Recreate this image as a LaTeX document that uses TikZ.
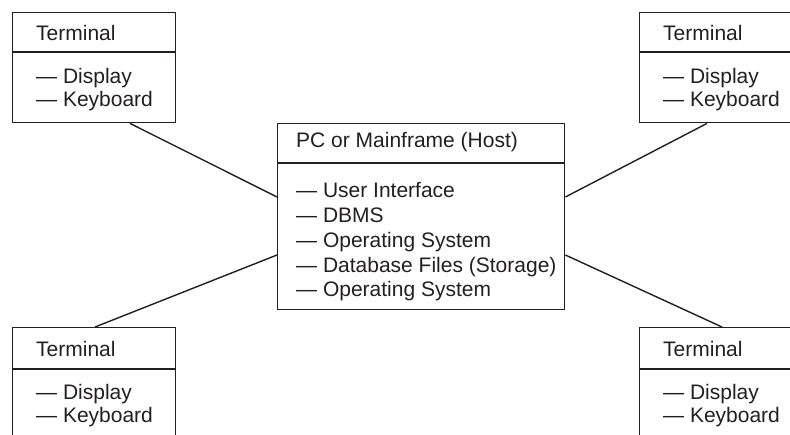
\documentclass[tikz,border=0pt]{standalone}
\usepackage{fontspec}
\setmainfont{Liberation Sans}
\usetikzlibrary{calc}
\definecolor{ink}{HTML}{231F20}
\begin{document}
\begin{tikzpicture}[x=1pt,y=-1pt,
  box/.style={draw=ink, line width=1.4pt, rectangle, inner sep=0pt, anchor=north west},
  divider/.style={draw=ink, line width=2.4pt},
  conn/.style={draw=ink, line width=1.4pt},
  txt/.style={anchor=base west, inner sep=0pt, font=\fontsize{21}{25}\selectfont, text=ink}]
\useasboundingbox (0,0) rectangle (790,434);

% boxes
\node[box, minimum width=163pt, minimum height=110pt] (tl) at (12,12) {};
\node[box, minimum width=163pt, minimum height=110pt] (tr) at (639,12) {};
\node[box, minimum width=163pt, minimum height=110pt] (bl) at (12,327) {};
\node[box, minimum width=163pt, minimum height=110pt] (br) at (639,327) {};
\node[box, minimum width=287pt, minimum height=186pt] (host) at (277,123) {};

% dividers
\draw[divider] ($(tl.north west)+(0,40)$) -- ($(tl.north east)+(0,40)$);
\draw[divider] ($(tr.north west)+(0,40)$) -- ($(tr.north east)+(0,40)$);
\draw[divider] ($(bl.north west)+(0,42)$) -- ($(bl.north east)+(0,42)$);
\draw[divider] ($(br.north west)+(0,42)$) -- ($(br.north east)+(0,42)$);
\draw[divider] ($(host.north west)+(0,40)$) -- ($(host.north east)+(0,40)$);

% texts: terminals
\foreach \b in {tl,tr}{
  \node[txt] (\b-t) at ($(\b.north west)+(24,28)$) {Terminal};
  \node[txt] (\b-d) at ($(\b.north west)+(24,71)$) {— Display};
  \node[txt] (\b-k) at ($(\b.north west)+(24,94)$) {— Keyboard};
}
\foreach \b in {bl,br}{
  \node[txt] (\b-t) at ($(\b.north west)+(24,29)$) {Terminal};
  \node[txt] (\b-d) at ($(\b.north west)+(24,72)$) {— Display};
  \node[txt] (\b-k) at ($(\b.north west)+(24,95)$) {— Keyboard};
}

% host texts
\node[txt] (h0) at ($(host.north west)+(19,24)$) {PC or Mainframe (Host)};
\node[txt] (h1) at ($(host.north west)+(19,74)$) {— User Interface};
\node[txt] (h2) at ($(host.north west)+(19,99)$) {— DBMS};
\node[txt] (h3) at ($(host.north west)+(19,124)$) {— Operating System};
\node[txt] (h4) at ($(host.north west)+(19,149)$) {— Database Files (Storage)};
\node[txt] (h5) at ($(host.north west)+(19,173)$) {— Operating System};

% connectors
\draw[conn] ($(tl.south west)+(118,0)$) -- ($(host.north west)+(0,74)$);
\draw[conn] ($(bl.north west)+(83,0)$) -- ($(host.north west)+(0,132)$);
\draw[conn] ($(tr.south west)+(68,0)$) -- ($(host.north east)+(0,74)$);
\draw[conn] ($(br.north west)+(83,0)$) -- ($(host.north east)+(0,132)$);
\end{tikzpicture}
\end{document}
